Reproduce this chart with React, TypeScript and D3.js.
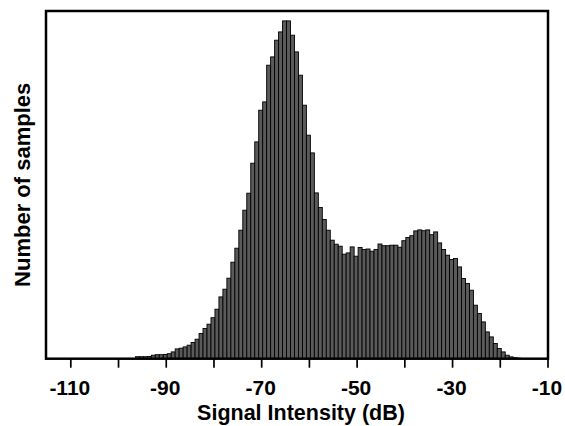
import React from "react";
import * as d3 from "d3";

// Histogram bins (dB): first bin left edge and bin width
const binStart = -96.46;
const binWidth = 10 / 12;
// Number of samples per bin (relative units)
const counts: number[] = [
  20, 20, 20, 22, 35, 40, 40, 42, 50, 68,
  98, 105, 118, 135, 162, 195, 252, 302, 345, 410,
  495, 618, 695, 805, 965, 1105, 1285, 1485, 1655, 1955,
  2168, 2485, 2568, 2935, 3018, 3185, 3268,
  3378, 3378, 3235, 3068, 2835, 2535, 2235, 2058, 1658, 1512,
  1392, 1285, 1185, 1145, 1125, 1045, 1058, 1118, 1025, 1112,
  1092, 1097, 1075, 1092, 1147, 1130, 1130, 1135, 1135, 1115,
  1180, 1212, 1230, 1278, 1288, 1280, 1288, 1240, 1268, 1158,
  1092, 1035, 992, 1002, 918, 802, 752, 685, 535, 452,
  368, 268, 218, 152, 102, 68, 35, 18, 10, 5,
];
const tickValues: number[] = [-110, -100, -90, -80, -70, -60, -50, -40, -30, -20, -10];
const labeledTicks: number[] = [-110, -90, -70, -50, -30, -10];
const xTitle = "Signal Intensity (dB)";
const yTitle = "Number of samples";

const W = 565;
const H = 426;
const left = 46, right = 548, top = 11, bottom = 358.7;

export default function App() {
  const x = d3.scaleLinear().domain([-115.2, -10]).range([left, right]);
  const y = d3.scaleLinear().domain([0, 3477]).range([bottom, top]);
  const font = "'Liberation Sans', Arial, Helvetica, sans-serif";

  return (
    <svg
      width={W}
      height={H}
      viewBox={`0 0 ${W} ${H}`}
      style={{ position: "absolute", left: 0, top: 0, background: "#fff" }}
    >
      <rect x={0} y={0} width={W} height={H} fill="#fff" />
      <g>
        {counts.map((c, i) => {
          const x0 = x(binStart + i * binWidth);
          const x1 = x(binStart + (i + 1) * binWidth);
          return (
            <rect
              key={i}
              x={x0}
              y={y(c)}
              width={x1 - x0}
              height={bottom - y(c)}
              fill="#5a5a5a"
              stroke="#000"
              strokeWidth={0.9}
            />
          );
        })}
      </g>
      <rect
        x={left}
        y={top}
        width={right - left}
        height={bottom - top}
        fill="none"
        stroke="#000"
        strokeWidth={2.5}
      />
      <g>
        {tickValues.map((t) => (
          <line
            key={t}
            x1={x(t)}
            x2={x(t)}
            y1={bottom}
            y2={bottom + 9}
            stroke="#000"
            strokeWidth={1.7}
          />
        ))}
        {labeledTicks.map((t) => (
          <text
            key={t}
            x={x(t) - 1}
            y={395}
            textAnchor="middle"
            fontFamily={font}
            fontWeight="bold"
            fontSize={21}
            fill="#000"
          >
            {t}
          </text>
        ))}
      </g>
      <text
        x={(left + right) / 2 + 4}
        y={420}
        textAnchor="middle"
        fontFamily={font}
        fontWeight="bold"
        fontSize={21.5}
        fill="#000"
      >
        {xTitle}
      </text>
      <text
        transform={`translate(30, ${(top + bottom) / 2}) rotate(-90)`}
        textAnchor="middle"
        fontFamily={font}
        fontWeight="bold"
        fontSize={22}
        fill="#000"
      >
        {yTitle}
      </text>
    </svg>
  );
}
